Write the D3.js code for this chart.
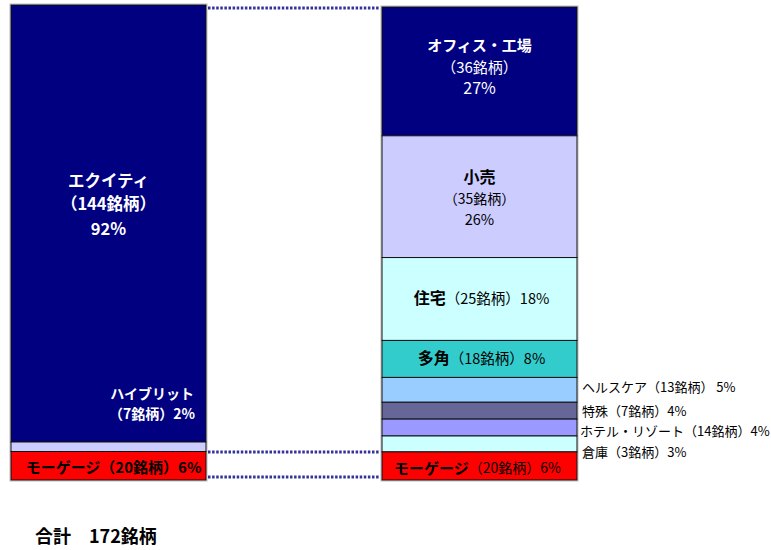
<!DOCTYPE html>
<html>
<head>
<meta charset="utf-8">
<script src="https://cdn.jsdelivr.net/npm/d3@7/dist/d3.min.js"></script>
<style>
  body { margin: 0; background: #fff; }
  text { font-family: "Noto Sans CJK JP", "Noto Sans", sans-serif; }
</style>
</head>
<body>
<div id="chart"></div>
<script>
// left bar: type breakdown
var leftNames = ["エクイティ", "ハイブリット", "モーゲージ"];
var leftCounts = [144, 7, 20];
var leftPct = [92, 2, 6];

// right bar: sector breakdown (shares, labels as printed)
var rightNames = ["オフィス・工場", "小売", "住宅", "多角", "ヘルスケア", "特殊", "ホテル・リゾート", "倉庫", "モーゲージ"];
var rightCounts = [36, 35, 25, 18, 13, 7, 14, 3, 20];
var rightPct = [27, 26, 18, 8, 5, 4, 4, 3, 6];
var rightShare = [27.5, 26, 17.7, 7.9, 5.3, 3.6, 3.6, 3.4, 6];

var totalCount = 172;

var leftColors = ["#000080", "#CCCCFF", "#FF0000"];
var rightColors = ["#000080", "#CCCCFF", "#CCFFFF", "#33CCCC", "#99CCFF", "#666699", "#9999FF", "#CCFFFF", "#FF0000"];

var width = 771,
    height = 550;

var svg = d3.select('#chart').append('svg')
    .attr('width', width)
    .attr('height', height)

var xScale = d3.scaleBand().domain(["left", "right"]).range([11, 577]).paddingInner(0.4744).paddingOuter(0);
var bw = xScale.bandwidth();

var yLeft = d3.scaleLinear().domain([0, d3.sum(leftPct)]).range([5, 480]);
var yRight = d3.scaleLinear().domain([0, d3.sum(rightShare)]).range([7, 480]);

function stack(vals) {
    var acc = 0;
    return vals.map(function(v, i) { var d = {i: i, y0: acc, y1: acc + v}; acc += v; return d; });
}

var leftStack = stack(leftPct),
    rightStack = stack(rightShare);

// outer grey frame
[["left", yLeft, d3.sum(leftPct)], ["right", yRight, d3.sum(rightShare)]].forEach(function(b) {
    svg.append("rect")
        .attr("x", xScale(b[0]) - 1).attr("y", b[1](0) - 1)
        .attr("width", bw + 2).attr("height", b[1](b[2]) - b[1](0) + 2)
        .attr("fill", "none").attr("stroke", "#bbb").attr("stroke-width", 1);
});

svg.append("g").selectAll("rect").data(leftStack).enter().append("rect")
    .attr("x", xScale("left"))
    .attr("y", function(d) { return yLeft(d.y0); })
    .attr("width", bw)
    .attr("height", function(d) { return yLeft(d.y1) - yLeft(d.y0); })
    .attr("fill", function(d) { return leftColors[d.i]; })
    .attr("stroke", "#111").attr("stroke-width", 1);

svg.append("g").selectAll("rect").data(rightStack).enter().append("rect")
    .attr("x", xScale("right"))
    .attr("y", function(d) { return yRight(d.y0); })
    .attr("width", bw)
    .attr("height", function(d) { return yRight(d.y1) - yRight(d.y0); })
    .attr("fill", function(d) { return rightColors[d.i]; })
    .attr("stroke", "#111").attr("stroke-width", 1);

// dotted connectors
var x1 = xScale("left") + bw + 2,
    x2 = xScale("right") - 2;
var mortTop = yRight(d3.sum(rightShare) - rightShare[8]);
[Math.max(yLeft(0), yRight(0)) + 1, mortTop, yLeft(d3.sum(leftPct)) - 3].forEach(function(y) {
    svg.append("line")
        .attr("x1", x1).attr("x2", x2).attr("y1", y).attr("y2", y)
        .attr("stroke", "#333399").attr("stroke-width", 3)
        .attr("stroke-dasharray", "2.5,1.6");
});

// label helper: parts = [[text, bold, size], ...] on one line
function label(x, y, anchor, color, parts) {
    var t = svg.append("text")
        .attr("x", x).attr("y", y)
        .attr("text-anchor", anchor)
        .attr("dominant-baseline", "central")
        .attr("fill", color);
    parts.forEach(function(p) {
        t.append("tspan").text(p[0])
            .attr("font-weight", p[1] ? "bold" : "normal")
            .attr("font-size", p[2]);
    });
    return t;
}

function mid(y, d) { return (y(d.y0) + y(d.y1)) / 2; }
var lcx = xScale("left") + bw / 2,
    rcx = xScale("right") + bw / 2;

// left labels
var eqMid = mid(yLeft, leftStack[0]);
label(lcx, eqMid - 44, "middle", "#fff", [[leftNames[0], true, 16.5]]);
label(lcx, eqMid - 21, "middle", "#fff", [["（" + leftCounts[0] + "銘柄）", true, 16.5]]);
label(lcx, eqMid + 4, "middle", "#fff", [[leftPct[0] + "%", true, 16.5]]);

var hyTop = yLeft(leftStack[1].y0);
label(xScale("left") + bw - 12, hyTop - 49, "end", "#fff", [[leftNames[1], true, 14]]);
label(xScale("left") + bw - 11, hyTop - 29, "end", "#fff", [["（" + leftCounts[1] + "銘柄）" + leftPct[1] + "%", true, 14]]);

label(lcx + 5, mid(yLeft, leftStack[2]), "middle", "#000",
    [[leftNames[2] + "（" + leftCounts[2] + "銘柄）" + leftPct[2] + "%", true, 15]]);

// right labels
var m0 = mid(yRight, rightStack[0]);
label(rcx, m0 - 27, "middle", "#fff", [[rightNames[0], true, 15]]);
label(rcx, m0 - 5, "middle", "#fff", [["（" + rightCounts[0] + "銘柄）", false, 15]]);
label(rcx, m0 + 16, "middle", "#fff", [[rightPct[0] + "%", false, 16]]);

var m1 = mid(yRight, rightStack[1]);
label(rcx, m1 - 21, "middle", "#000", [[rightNames[1], true, 16]]);
label(rcx, m1 + 1, "middle", "#000", [["（" + rightCounts[1] + "銘柄）", false, 14]]);
label(rcx, m1 + 21, "middle", "#000", [[rightPct[1] + "%", false, 14.5]]);

[2, 3].forEach(function(i) {
    label(rcx + 2, mid(yRight, rightStack[i]) - 2, "middle", "#000",
        [[rightNames[i], true, 16], ["（" + rightCounts[i] + "銘柄）" + rightPct[i] + "%", false, 14.5]]);
});

var outsideNudge = [-4, -1, 2, 7];
[4, 5, 6, 7].forEach(function(i, k) {
    label(xScale("right") + bw + (i == 6 ? 3 : 5), mid(yRight, rightStack[i]) + outsideNudge[k], "start", "#000",
        [[rightNames[i] + "（" + rightCounts[i] + "銘柄）" + (i == 4 ? "  " : "") + rightPct[i] + "%", false, 13]]);
});

label(rcx - 2, mid(yRight, rightStack[8]) + 1, "middle", "#000",
    [[rightNames[8], true, 15], ["（" + rightCounts[8] + "銘柄）" + rightPct[8] + "%", false, 14]]);

// total
label(35, 535, "start", "#000", [["合計　" + totalCount + "銘柄", true, 18]]);
</script>
</body>
</html>
